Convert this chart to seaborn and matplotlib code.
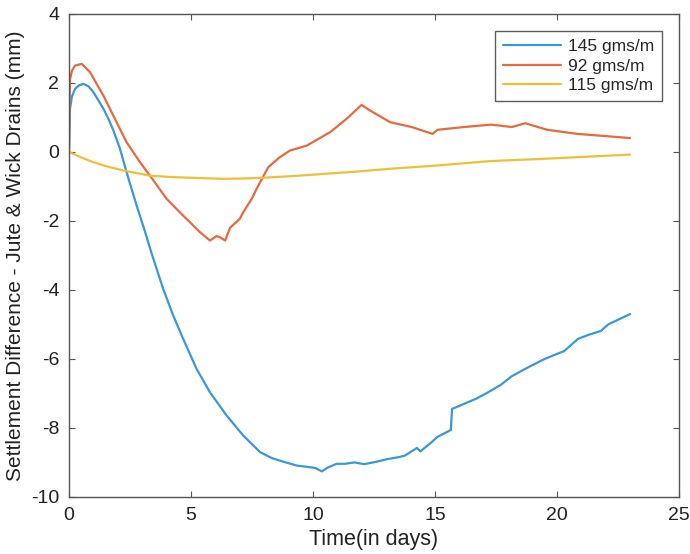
import pandas as pd
import seaborn as sns
import matplotlib.pyplot as plt

# series (time in days, settlement difference in mm)
t_145 = [0, 0.04, 0.12, 0.25, 0.42, 0.59, 0.8, 1.0, 1.2, 1.41, 1.62, 1.82, 2.09, 2.36, 2.77, 3.11,
         3.39, 3.86, 4.27, 4.68, 5.23, 5.78, 6.46, 7.14, 7.83, 8.3, 8.65, 9.33, 9.88, 10.1, 10.36,
         10.6, 10.97, 11.3, 11.7, 12.1, 12.6, 13.07, 13.5, 13.77, 14.26, 14.4, 14.8, 15.1, 15.4,
         15.65, 15.7, 16.2, 16.7, 17.2, 17.7, 18.15, 18.8, 19.5, 20.3, 20.86, 21.3, 21.8, 22.1,
         22.4, 23.0]
y_145 = [0, 1.25, 1.6, 1.83, 1.93, 1.97, 1.9, 1.73, 1.5, 1.25, 0.95, 0.62, 0.09, -0.59, -1.55, -2.3,
         -2.95, -3.97, -4.74, -5.42, -6.29, -6.97, -7.64, -8.22, -8.7, -8.87, -8.95, -9.09, -9.14, -9.16, -9.26,
         -9.15, -9.04, -9.04, -9.0, -9.05, -8.98, -8.9, -8.85, -8.8, -8.58, -8.68, -8.45, -8.26, -8.15,
         -8.06, -7.45, -7.3, -7.15, -6.96, -6.75, -6.5, -6.25, -6.0, -5.77, -5.42, -5.3, -5.19, -5.0,
         -4.9, -4.7]

t_92 = [0, 0.04, 0.12, 0.25, 0.52, 0.86, 1.41, 1.95, 2.36, 2.91, 3.32, 4.0, 4.68, 4.96, 5.37, 5.78,
        6.05, 6.2, 6.4, 6.6, 7.0, 7.14, 7.49, 7.69, 8.17, 8.65, 9.06, 9.74, 10.7, 11.38, 11.99,
        12.34, 13.16, 14.05, 14.9, 15.1, 16.2, 17.3, 18.15, 18.7, 19.6, 20.85, 21.95, 23.0]
y_92 = [0, 2.1, 2.35, 2.5, 2.55, 2.31, 1.63, 0.86, 0.28, -0.3, -0.69, -1.36, -1.85, -2.04, -2.33, -2.57,
        -2.44, -2.48, -2.57, -2.2, -1.94, -1.75, -1.36, -1.07, -0.44, -0.15, 0.04, 0.18, 0.57, 0.96, 1.36,
        1.2, 0.86, 0.72, 0.52, 0.64, 0.72, 0.79, 0.72, 0.83, 0.64, 0.52, 0.46, 0.4]

t_115 = [0, 0.5, 1.0, 1.6, 2.23, 3.32, 4.2, 4.96, 5.37, 6.32, 7.2, 7.96, 9.2, 10.42, 11.8, 13.16,
         15.0, 17.2, 19.5, 21.5, 23.0]
y_115 = [0, -0.16, -0.3, -0.43, -0.54, -0.69, -0.73, -0.75, -0.76, -0.78, -0.77, -0.75, -0.7, -0.64, -0.57, -0.49,
         -0.4, -0.27, -0.2, -0.13, -0.08]

labels = ["145 gms/m", "92 gms/m", "115 gms/m"]
colors = ["#3a98d8", "#e66a3e", "#eec03a"]

df = pd.concat([
    pd.DataFrame({"t": t_145, "d": y_145, "series": labels[0]}),
    pd.DataFrame({"t": t_92, "d": y_92, "series": labels[1]}),
    pd.DataFrame({"t": t_115, "d": y_115, "series": labels[2]}),
])

sns.set_style("white")
plt.rcParams["font.family"] = ["Liberation Sans", "DejaVu Sans"]
plt.rcParams["axes.unicode_minus"] = False

fig = plt.figure(figsize=(6.9, 5.54), dpi=100)
ax = fig.add_axes([0.1, 0.103, 0.884, 0.872])
sns.lineplot(data=df, x="t", y="d", hue="series", hue_order=labels, palette=colors,
             sort=False, estimator=None, linewidth=1.6, ax=ax)

ax.set_xlim(0, 25)
ax.set_ylim(-10, 4)
ax.set_xticks([0, 5, 10, 15, 20, 25])
ax.set_yticks([-10, -8, -6, -4, -2, 0, 2, 4])
ax.tick_params(direction="in", length=4, width=0.8, colors="#555555", labelcolor="#222222",
               labelsize=14, top=True, right=True, bottom=True, left=True, pad=7)
for s in ax.spines.values():
    s.set_color("#555555")
    s.set_linewidth(1.0)

ax.set_xlabel("Time(in days)", fontsize=15.5, color="#222222", labelpad=4)
ax.set_ylabel("Settlement Difference - Jute & Wick Drains (mm)", fontsize=15, color="#222222", labelpad=4)

leg = ax.legend(loc="upper right", fontsize=12.5, frameon=True, fancybox=False, handlelength=3.3,
                borderaxespad=1.0, labelspacing=0.25, handletextpad=0.4, borderpad=0.45)
leg.get_frame().set_edgecolor("#333333")
leg.get_frame().set_linewidth(1.0)
leg.set_title(None)

fig.savefig("out.png", dpi=100)
